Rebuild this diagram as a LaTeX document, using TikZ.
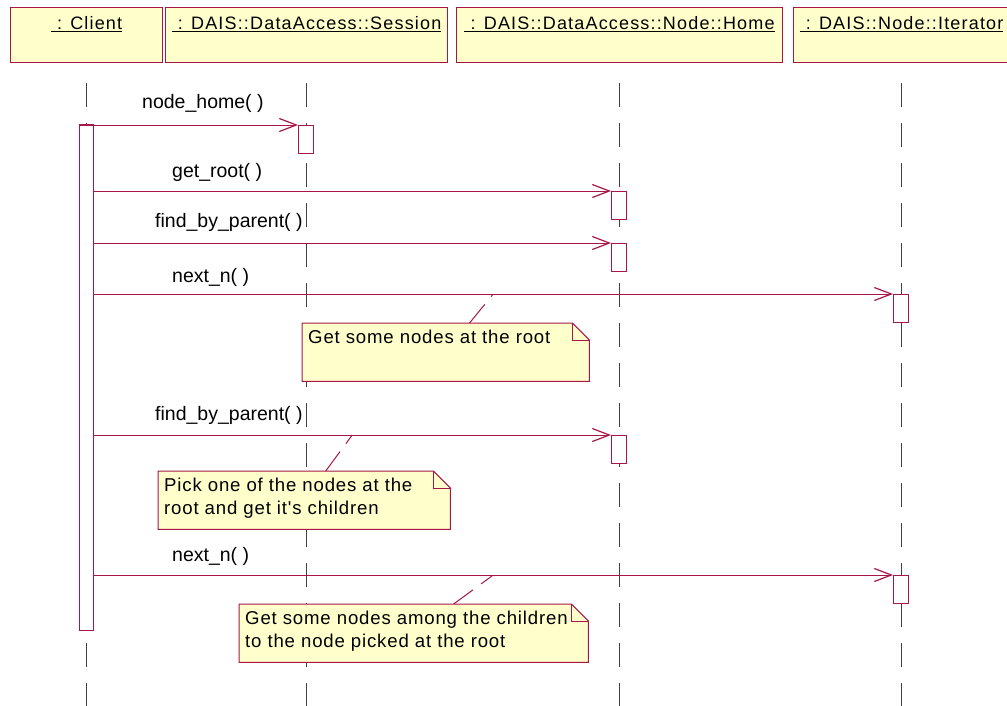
\documentclass[tikz,border=0pt]{standalone}
\usepackage{fontspec}
\setmainfont{Liberation Sans}
\newfontfamily\hdrfont{Liberation Sans}[LetterSpace=6.5]
\newfontfamily\notefont{Liberation Sans}[LetterSpace=4.5]
\usetikzlibrary{arrows.meta,calc}
\definecolor{umlred}{RGB}{168,22,72}
\definecolor{umlfill}{RGB}{255,255,204}
\definecolor{lifegray}{RGB}{64,64,64}

\tikzset{
  objbox/.style={draw=umlred, fill=umlfill, line width=1pt, minimum height=55pt,
    inner sep=0pt, anchor=north west},
  objname/.style={anchor=north, inner sep=0pt, yshift=-9pt,
    font=\fontsize{18}{22}\selectfont\hdrfont},
  lifeline/.style={draw=lifegray, line width=1pt, dash pattern=on 24pt off 16pt},
  actbar/.style={draw=umlred, fill=white, line width=1pt, minimum width=15pt,
    minimum height=28pt, inner sep=0pt, anchor=north},
  msg/.style={draw=umlred, line width=1pt,
    -{Straight Barb[length=17pt,width=13pt,line width=1.2pt]}},
  msglabel/.style={anchor=west, inner sep=0pt, font=\fontsize{19.5}{22}\selectfont},
  notebound/.style={inner sep=0pt, anchor=north west},
  noteshape/.style={draw=umlred, fill=umlfill, line width=1pt},
  notetext/.style={anchor=north west, align=left, inner xsep=6pt, inner ysep=6.5pt,
    font=\fontsize{18.6}{23}\selectfont\notefont},
  noteanchor/.style={draw=umlred, line width=1pt, dash pattern=on 24pt off 10pt},
}

% note with a folded corner: name, top-left corner, width, height, text
\newcommand\umlnote[5]{%
  \node[notebound, minimum width=#3pt, minimum height=#4pt] (#1) at (#2) {};
  \filldraw[noteshape] (#1.north west) -- ($(#1.north east)+(-17,0)$)
    -- ($(#1.north east)+(0,17)$) -- (#1.south east) -- (#1.south west) -- cycle;
  \draw[noteshape, fill=none] ($(#1.north east)+(-17,0)$) |- ($(#1.north east)+(0,17)$);
  \node[notetext] (#1-text) at (#1.north west) {#5};
}

\begin{document}
\begin{tikzpicture}[x=1pt, y=-1pt]
\useasboundingbox (0,0) rectangle (1007,705);

% object headers
\node[objbox, minimum width=152pt, label={[objname]north:\underline{\ : Client}}] (hc) at (10,7) {};
\node[objbox, minimum width=282pt, label={[objname]north:\underline{\ : DAIS::DataAccess::Session}}] (hs) at (165,7) {};
\node[objbox, minimum width=326pt, label={[objname]north:\underline{\ : DAIS::DataAccess::Node::Home}}] (hh) at (456,7) {};
\node[objbox, minimum width=216pt, label={[objname]north:\underline{\ : DAIS::Node::Iterator}}] (hi) at (793,7) {};

% lifelines
\foreach \h in {hc,hs,hh,hi}
  \draw[lifeline] (\h.south) ++(0,20) -- ++(0,630);

% activation bars
\node[actbar, minimum width=14pt, minimum height=506pt] (cact) at (86,124) {};
\node[actbar] (s1) at (306,125) {};
\node[actbar] (h1) at (619,191) {};
\node[actbar] (h2) at (619,243) {};
\node[actbar] (i1) at (901,294) {};
\node[actbar] (h3) at (619,435) {};
\node[actbar] (i2) at (901,575) {};

% messages
\draw[msg] (cact.west |- s1.north) -- (s1.north west);
\draw[msg] (cact.east |- h1.north) -- (h1.north west);
\draw[msg] (cact.east |- h2.north) -- (h2.north west);
\draw[msg] (cact.east |- i1.north) -- (i1.north west);
\draw[msg] (cact.east |- h3.north) -- (h3.north west);
\draw[msg] (cact.east |- i2.north) -- (i2.north west);

\node[msglabel] (l1) at (142,103) {node\_home( )};
\node[msglabel] (l2) at (172,172) {get\_root( )};
\node[msglabel] (l3) at (155,222) {find\_by\_parent( )};
\node[msglabel] (l4) at (172,277) {next\_n( )};
\node[msglabel] (l5) at (155,415) {find\_by\_parent( )};
\node[msglabel] (l6) at (172,556) {next\_n( )};

% points the notes are attached to
\coordinate (m4) at ($(cact.east |- i1.north)!0.5!(i1.north west)$);
\coordinate (m5) at ($(cact.east |- h3.north)!0.5!(h3.north west)$);
\coordinate (m6) at ($(cact.east |- i2.north)!0.5!(i2.north west)$);

% notes
\umlnote{n1}{302,323}{287}{58}{Get some nodes at the root}
\umlnote{n2}{158,471}{292}{58}{Pick one of the nodes at the\\root and get it's children}
\umlnote{n3}{239,604}{349}{58}{Get some nodes among the children\\to the node picked at the root}

\draw[noteanchor] (n1) -- (m4);
\draw[noteanchor] (n2) -- (m5);
\draw[noteanchor] (n3) -- (m6);
\end{tikzpicture}
\end{document}
